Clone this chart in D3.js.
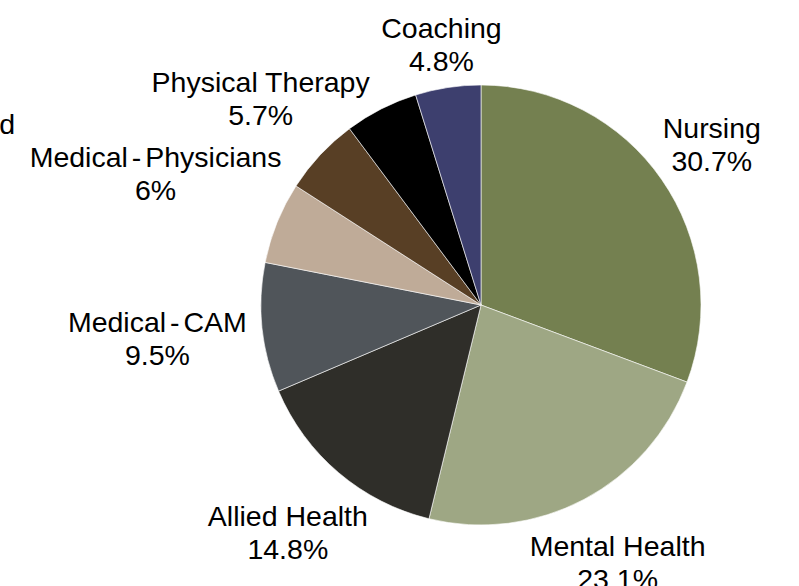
<!DOCTYPE html>
<html>
<head>
<meta charset="utf-8">
<script src="https://cdn.jsdelivr.net/npm/d3@7"></script>
<style>
  body { margin: 0; background: #fff; }
  text { font-family: "Liberation Sans", Arial, sans-serif; fill: #000; }
</style>
</head>
<body>
<svg id="chart" width="799" height="586"></svg>
<script>
const categories = ["Nursing", "Mental Health", "Allied Health", "Medical - CAM", "Medical - Physicians", "Physical Therapy", "Unclassified", "Coaching"];
const values = [30.7, 23.1, 14.8, 9.5, 6, 5.7, 5.4, 4.8];
const valueLabels = ["30.7%", "23.1%", "14.8%", "9.5%", "6%", "5.7%", "5.4%", "4.8%"];
const colors = ["#748050", "#9ea784", "#2f2e29", "#50555a", "#bfab98", "#583f25", "#000000", "#3d3f6e"];

const width = 799, height = 586;
const cx = 481, cy = 305, radius = 220;
const labelGap = 2;
const fontSize = 28.5;
const lineGap = 33;
// small hand nudges where the original's label placement differs from the simple rule
const labelNudge = { "Physical Therapy": [17, 15], "Medical - CAM": [-11, 1] };

const svg = d3.select("#chart");
const g = svg.append("g").attr("transform", `translate(${cx},${cy})`);

const data = categories.map((c, i) => ({ name: c, value: values[i], label: valueLabels[i], color: colors[i] }));

const pie = d3.pie().sort(null).value(d => d.value);
const arc = d3.arc().innerRadius(0).outerRadius(radius);
const arcs = pie(data);

g.selectAll("path")
  .data(arcs)
  .enter()
  .append("path")
  .attr("d", arc)
  .attr("fill", d => d.data.color)
  .attr("stroke", "#ffffff")
  .attr("stroke-width", 0.6);

// labels sit just outside the pie along each slice's mid angle
const labels = g.selectAll("g.label")
  .data(arcs)
  .enter()
  .append("g")
  .attr("class", "label");

const txt = labels.append("text")
  .attr("text-anchor", "middle")
  .style("font-size", fontSize + "px")
  .style("word-spacing", d => d.data.name.includes(" - ") ? "-4px" : null);
txt.append("tspan").attr("x", 0).attr("y", 0).text(d => d.data.name);
txt.append("tspan").attr("x", 0).attr("y", lineGap).text(d => d.data.label);

labels.each(function(d) {
  const box = this.getBBox();
  const w = box.width / 2, h = box.height / 2;
  const a = (d.startAngle + d.endAngle) / 2;
  const ux = Math.sin(a), uy = -Math.cos(a);
  let dist = radius + labelGap + Math.abs(ux) * w + Math.abs(uy) * h;
  let px = ux * dist - (box.x + w);
  let py = uy * dist - (box.y + h);
  const n = labelNudge[d.data.name];
  if (n) { px += n[0]; py += n[1]; }
  // the small black slice's label was pushed off the left edge in the original
  if (d.data.name === "Unclassified") {
    px = -cx + 15 - w;
    py = -cy + 134;
  }
  d3.select(this).attr("transform", `translate(${px},${py})`);
});
</script>
</body>
</html>
